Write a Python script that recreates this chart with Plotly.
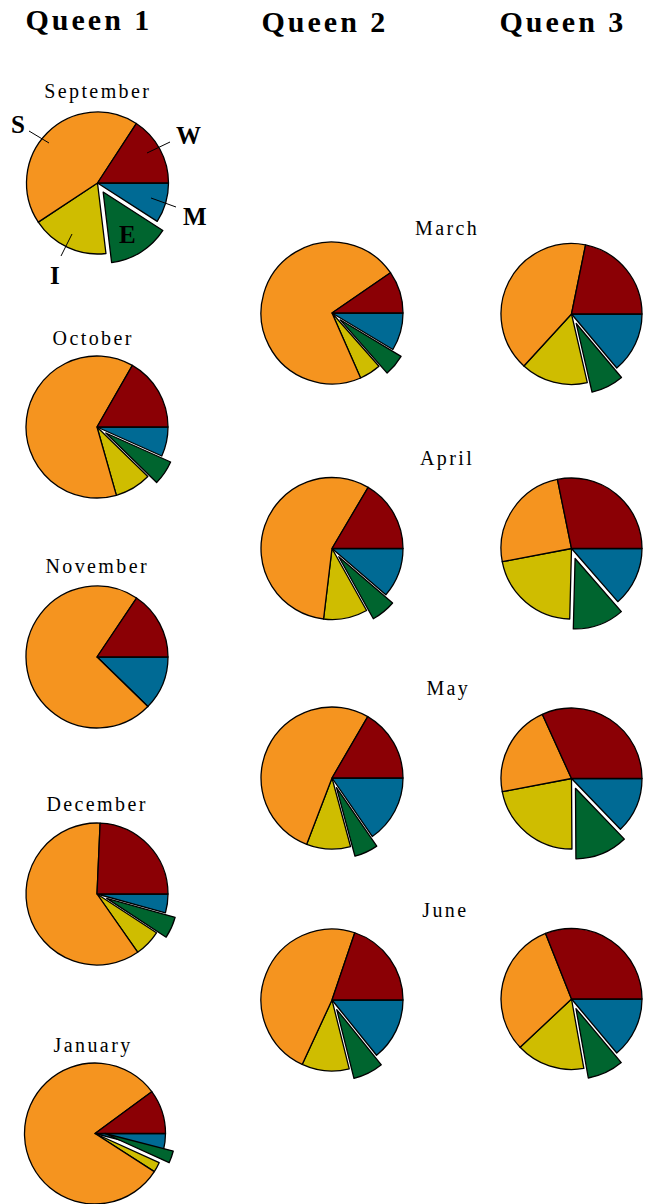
import math

import plotly.graph_objects as go

# Slice order as drawn: clockwise from 3 o'clock.
ORDER = ["M", "E", "I", "S", "W"]
COLORS = {
    "W": "#8b0005",
    "M": "#006a94",
    "E": "#00652f",
    "I": "#cfbd00",
    "S": "#f5941f",
}

# Queen 1 (percent of time per behaviour)
q1_months = ["September", "October", "November", "December", "January"]
q1_W = [15.8, 16.7, 15.6, 24.3, 10.1]
q1_M = [9.1, 6.7, 12.3, 4.3, 4.0]
q1_E = [14.0, 5.6, 0.0, 4.9, 2.8]
q1_I = [17.6, 8.3, 0.0, 6.1, 2.3]
q1_S = [43.5, 62.7, 72.1, 60.4, 80.8]

# Queens 2 and 3 share the month labels
q23_months = ["March", "April", "May", "June"]
q2_W = [9.6, 16.5, 16.6, 19.8]
q2_M = [8.6, 11.3, 15.4, 14.2]
q2_E = [4.9, 5.6, 5.4, 6.9]
q2_I = [4.9, 10.0, 10.0, 10.8]
q2_S = [72.0, 56.6, 52.6, 48.3]

q3_W = [21.8, 28.2, 31.8, 31.0]
q3_M = [13.9, 13.6, 12.8, 13.9]
q3_E = [7.5, 11.8, 12.1, 8.3]
q3_I = [15.4, 21.6, 22.1, 15.8]
q3_S = [41.4, 24.8, 21.2, 31.0]

queen_titles = ["Queen 1", "Queen 2", "Queen 3"]

W_PX, H_PX = 647, 1204
PULL = 0.15
LINE_W = 1.3
SERIF = "Liberation Serif, Times New Roman, serif"


def domain(cx, cy, r):
    x0, x1 = (cx - r) / W_PX, (cx + r) / W_PX
    if x1 > 1:
        x0, x1 = x0 - (x1 - 1), 1.0
    y0, y1 = 1 - (cy + r) / H_PX, 1 - (cy - r) / H_PX
    if y0 < 0:
        y0, y1 = 0.0, y1 - y0
    return dict(x=[max(x0, 0), x1], y=[y0, min(y1, 1)])


def add_pie(fig, vals, cx, cy, r):
    d = dict(zip(["W", "M", "E", "I", "S"], vals))
    values = [d[k] for k in ORDER]
    main_cols = ["rgba(0,0,0,0)" if k == "E" else COLORS[k] for k in ORDER]
    main_w = [0 if k == "E" else LINE_W for k in ORDER]
    common = dict(
        labels=ORDER,
        values=values,
        sort=False,
        direction="clockwise",
        rotation=90,
        textinfo="none",
        hoverinfo="label+percent",
        showlegend=False,
    )
    fig.add_pie(
        domain=domain(cx, cy, r),
        marker=dict(colors=main_cols, line=dict(color="black", width=main_w)),
        **common,
    )
    if d["E"] <= 0:
        return
    # exploded E slice, drawn as its own pie shifted along the slice bisector
    mid = -(d["M"] + d["E"] / 2) / sum(values) * 2 * math.pi
    ox = cx + PULL * r * math.cos(mid)
    oy = cy - PULL * r * math.sin(mid)
    e_cols = [COLORS[k] if k == "E" else "rgba(0,0,0,0)" for k in ORDER]
    e_w = [LINE_W if k == "E" else 0 for k in ORDER]
    fig.add_pie(
        domain=domain(ox, oy, r),
        marker=dict(colors=e_cols, line=dict(color="black", width=e_w)),
        **common,
    )


fig = go.Figure()

q1_pos = [(97.5, 183), (97, 427), (97, 657), (97, 894), (95, 1133.5)]
for i, (cx, cy) in enumerate(q1_pos):
    r = 70.5 if i == 4 else 71
    add_pie(fig, [q1_W[i], q1_M[i], q1_E[i], q1_I[i], q1_S[i]], cx, cy, r)

q2_pos = [(332, 313), (332, 548.5), (332, 778), (332, 1000)]
for i, (cx, cy) in enumerate(q2_pos):
    add_pie(fig, [q2_W[i], q2_M[i], q2_E[i], q2_I[i], q2_S[i]], cx, cy, 71)

q3_pos = [(571.5, 314), (571.5, 548.5), (571.5, 778.5), (571.5, 999)]
for i, (cx, cy) in enumerate(q3_pos):
    add_pie(fig, [q3_W[i], q3_M[i], q3_E[i], q3_I[i], q3_S[i]], cx, cy, 70.5)


def px_ann(text, x, y, size, bold=False):
    fig.add_annotation(
        text=f"<b>{text}</b>" if bold else text,
        x=x / W_PX,
        y=1 - y / H_PX,
        xref="paper",
        yref="paper",
        xanchor="center",
        yanchor="middle",
        showarrow=False,
        font=dict(family=SERIF, size=size, color="black"),
    )


for title, x, y in zip(queen_titles, [88.5, 325, 563], [20, 21, 22]):
    px_ann(title, x, y, 30, bold=True)

for m, x, y in zip(q1_months, [98, 93, 97, 97, 93], [92, 338, 566, 804, 1045]):
    px_ann(m, x, y, 20)
for m, x, y in zip(q23_months, [447, 447.5, 448, 445], [228, 458, 688, 910]):
    px_ann(m, x, y, 20)

# key letters on the September pie
for letter, x, y in [("S", 17.5, 124), ("W", 188, 136), ("M", 195, 217),
                     ("E", 127.5, 234), ("I", 55, 275)]:
    px_ann(letter, x, y, 25, bold=True)

for x0, y0, x1, y1 in [(29, 131, 49, 143), (170, 142, 147, 153),
                       (176, 207, 151, 198), (61, 256, 72, 234)]:
    fig.add_shape(
        type="line",
        xref="paper",
        yref="paper",
        x0=x0 / W_PX,
        y0=1 - y0 / H_PX,
        x1=x1 / W_PX,
        y1=1 - y1 / H_PX,
        line=dict(color="black", width=1),
    )

fig.update_layout(
    width=W_PX,
    height=H_PX,
    margin=dict(l=0, r=0, t=0, b=0),
    paper_bgcolor="white",
    plot_bgcolor="white",
    showlegend=False,
    font=dict(family=SERIF),
)

page_js = """
document.body.style.margin = '0';
document.body.style.overflow = 'hidden';
document.querySelectorAll('.annotation-text').forEach(function (t) {
  var fs = parseFloat(t.style.fontSize || '20');
  t.style.letterSpacing = fs >= 28 ? '3px' : (fs >= 24 ? '0px' : '2.4px');
});
"""

fig.write_html("out.html", post_script=page_js,
               config={"displayModeBar": False})
